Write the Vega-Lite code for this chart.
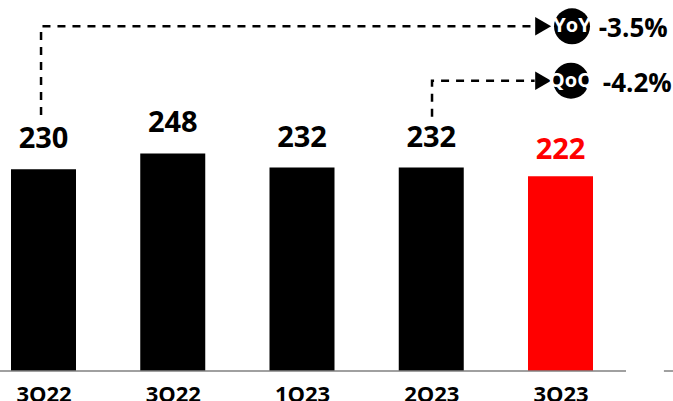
{"$schema":"https://vega.github.io/schema/vega-lite/v6.json","width":673,"height":371,"autosize":"none","padding":{"left":0,"top":0,"right":0,"bottom":30},"background":"white","config":{"view":{"stroke":null},"font":"Open Sans"},
"datasets":{"bars":[{"i":0,"q":"3Q22","v":230,"c":"black"},{"i":1,"q":"3Q22","v":248,"c":"black"},{"i":2,"q":"1Q23","v":232,"c":"black"},{"i":3,"q":"2Q23","v":232,"c":"black"},{"i":4,"q":"3Q23","v":222,"c":"red"}],
"lines":[{"s":"YoY","o":0,"i":-0.019,"v":292},{"s":"YoY","o":1,"i":-0.019,"v":393},{"s":"YoY","o":2,"i":3.8,"v":393},{"s":"QoQ","o":0,"i":3.006,"v":290},{"s":"QoQ","o":1,"i":3.006,"v":331},{"s":"QoQ","o":2,"i":3.8,"v":331}],
"badges":[{"s":"YoY","i":4.089,"v":393,"a":3.866,"pi":4.296,"pv":381,"p":"-3.5%"},{"s":"QoQ","i":4.081,"v":331,"a":3.866,"pi":4.327,"pv":318,"p":"-4.2%"}],
"base":[{"a":-0.34,"b":4.507},{"a":4.8,"b":4.871}]},
"layer":[
{"data":{"name":"bars"},"mark":{"type":"bar","size":65},"encoding":{"x":{"field":"i","type":"quantitative","scale":{"domain":[-0.33656,4.8704],"nice":false,"zero":false,"padding":0},"title":null,"axis":{"values":[0,1,2,3,4],"labelExpr":"['3Q22','3Q22','1Q23','2Q23','3Q23'][datum.value]","domain":false,"ticks":false,"grid":false,"labelFontSize":22,"labelFontWeight":"bold","labelColor":"black","labelPadding":13,"labelFlush":false,"labelOverlap":false}},"y":{"field":"v","type":"quantitative","scale":{"domain":[0,423],"nice":false},"axis":null},"color":{"field":"c","type":"nominal","scale":null}}},
{"data":{"name":"base"},"mark":{"type":"rule","color":"#808080","strokeWidth":1.5},"encoding":{"x":{"field":"a","type":"quantitative"},"x2":{"field":"b"},"y":{"datum":0,"type":"quantitative"}}},
{"data":{"name":"bars"},"transform":[{"filter":"datum.i<4"}],"mark":{"type":"text","fontSize":29,"fontWeight":"bold","baseline":"alphabetic","dy":-21,"color":"black"},"encoding":{"x":{"field":"i","type":"quantitative"},"y":{"field":"v","type":"quantitative"},"text":{"field":"v"}}},
{"data":{"name":"bars"},"transform":[{"filter":"datum.i==4"}],"mark":{"type":"text","fontSize":29,"fontWeight":"bold","baseline":"alphabetic","dy":-17,"color":"red"},"encoding":{"x":{"field":"i","type":"quantitative"},"y":{"field":"v","type":"quantitative"},"text":{"field":"v"}}},
{"data":{"name":"lines"},"mark":{"type":"line","color":"black","strokeWidth":2.5,"strokeDash":[8,7]},"encoding":{"x":{"field":"i","type":"quantitative"},"y":{"field":"v","type":"quantitative"},"detail":{"field":"s"},"order":{"field":"o"}}},
{"data":{"name":"badges"},"mark":{"type":"point","shape":"triangle-right","filled":true,"size":340,"color":"black","opacity":1},"encoding":{"x":{"field":"a","type":"quantitative"},"y":{"field":"v","type":"quantitative"}}},
{"data":{"name":"badges"},"mark":{"type":"point","shape":"circle","filled":true,"size":1296,"color":"black","opacity":1},"encoding":{"x":{"field":"i","type":"quantitative"},"y":{"field":"v","type":"quantitative"}}},
{"data":{"name":"badges"},"mark":{"type":"text","fontSize":20,"fontWeight":"bold","color":"white","baseline":"middle"},"encoding":{"x":{"field":"i","type":"quantitative"},"y":{"field":"v","type":"quantitative"},"text":{"field":"s"}}},
{"data":{"name":"badges"},"mark":{"type":"text","fontSize":26,"fontWeight":"bold","color":"black","align":"left","baseline":"alphabetic"},"encoding":{"x":{"field":"pi","type":"quantitative"},"y":{"field":"pv","type":"quantitative"},"text":{"field":"p"}}}
]}
